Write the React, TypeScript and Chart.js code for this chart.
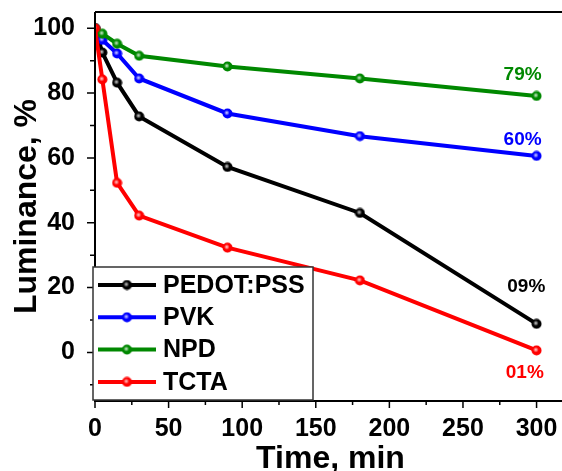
import React, { useEffect, useRef } from 'react';
import { Chart, registerables } from 'chart.js';
Chart.register(...registerables);

const times = [0, 5, 15, 30, 90, 180, 300];
const pedot = [100, 92.5, 83.2, 72.8, 57.2, 43.0, 8.8];
const pvk = [100, 96.4, 92.2, 84.5, 73.7, 66.7, 60.6];
const npd = [100, 98.3, 95.2, 91.5, 88.2, 84.5, 79.1];
const tcta = [100, 84.2, 52.3, 42.2, 32.3, 22.2, 0.6];

const seriesNames = ['PEDOT:PSS', 'PVK', 'NPD', 'TCTA'];
const seriesValues = [pedot, pvk, npd, tcta];
const seriesColors = ['#000000', '#0000ff', '#008800', '#ff0000'];
const seriesOrder = [3, 2, 1, 0];

const endLabels = ['09%', '60%', '79%', '01%'];
const endLabelX = [293, 290.5, 290.5, 292];
const endLabelY = [20.3, 65.5, 85.5, -6.2];

const xMajorTicks = [0, 50, 100, 150, 200, 250, 300];
const xMinorTicks = [25, 75, 125, 175, 225, 275];
const yMajorTicks = [0, 20, 40, 60, 80, 100];
const yMinorTicks = [-10, 10, 30, 50, 70, 90];

const FONT = "'Liberation Sans', Arial, sans-serif";

function makePoint(color: string): HTMLCanvasElement {
  const c = document.createElement('canvas');
  c.width = 11;
  c.height = 11;
  const g = c.getContext('2d')!;
  g.beginPath();
  g.arc(5.5, 5.5, 5, 0, Math.PI * 2);
  g.fillStyle = color;
  g.fill();
  const grad = g.createRadialGradient(4.8, 4.8, 0, 4.8, 4.8, 2.8);
  grad.addColorStop(0, 'rgba(255,255,255,0.85)');
  grad.addColorStop(1, 'rgba(255,255,255,0)');
  g.fillStyle = grad;
  g.beginPath();
  g.arc(5.5, 5.5, 5, 0, Math.PI * 2);
  g.fill();
  return c;
}

export default function App() {
  const ref = useRef<HTMLCanvasElement | null>(null);

  useEffect(() => {
    const canvas = ref.current;
    if (!canvas) return;
    const pointImgs = seriesColors.map(makePoint);

    const decor = {
      id: 'decor',
      afterDatasetsDraw(chart: any) {
        const { ctx, chartArea: ca, scales } = chart;
        const xs = scales.x;
        const ys = scales.y;
        ctx.save();
        // frame
        ctx.strokeStyle = '#000';
        ctx.lineWidth = 2;
        ctx.beginPath();
        ctx.moveTo(ca.left, ca.top);
        ctx.lineTo(chart.width, ca.top);
        ctx.moveTo(ca.left, ca.top);
        ctx.lineTo(ca.left, ca.bottom);
        ctx.lineTo(chart.width, ca.bottom);
        ctx.stroke();
        // ticks
        ctx.lineWidth = 1.5;
        ctx.beginPath();
        xMajorTicks.forEach((v) => {
          const p = xs.getPixelForValue(v);
          ctx.moveTo(p, ca.bottom);
          ctx.lineTo(p, ca.bottom + 7);
        });
        xMinorTicks.forEach((v) => {
          const p = xs.getPixelForValue(v);
          ctx.moveTo(p, ca.bottom);
          ctx.lineTo(p, ca.bottom + 4);
        });
        yMajorTicks.forEach((v) => {
          const p = ys.getPixelForValue(v);
          ctx.moveTo(ca.left, p);
          ctx.lineTo(ca.left - 8, p);
        });
        yMinorTicks.forEach((v) => {
          const p = ys.getPixelForValue(v);
          ctx.moveTo(ca.left, p);
          ctx.lineTo(ca.left - 5, p);
        });
        ctx.stroke();

        // end labels
        ctx.font = `bold 19px ${FONT}`;
        ctx.textAlign = 'center';
        ctx.textBaseline = 'middle';
        endLabels.forEach((t, i) => {
          ctx.fillStyle = seriesColors[i];
          ctx.fillText(t, xs.getPixelForValue(endLabelX[i]), ys.getPixelForValue(endLabelY[i]));
        });

        // legend
        const x0 = ca.left - 2;
        const y1 = ca.bottom - 1;
        const w = 220;
        const h = 133;
        const y0 = y1 - h;
        ctx.fillStyle = '#fff';
        ctx.fillRect(x0, y0, w, h);
        ctx.strokeStyle = '#333';
        ctx.lineWidth = 1.5;
        ctx.strokeRect(x0, y0, w, h);
        ctx.font = `bold 25px ${FONT}`;
        ctx.textAlign = 'left';
        ctx.textBaseline = 'middle';
        seriesNames.forEach((name, i) => {
          const ry = y0 + 18 + i * 32.3;
          ctx.strokeStyle = seriesColors[i];
          ctx.lineWidth = 4;
          ctx.beginPath();
          ctx.moveTo(x0 + 5, ry);
          ctx.lineTo(x0 + 63, ry);
          ctx.stroke();
          ctx.drawImage(pointImgs[i], x0 + 34 - 5.5, ry - 5.5);
          ctx.fillStyle = '#000';
          ctx.fillText(name, x0 + 70, ry + 1);
        });
        ctx.restore();
      },
    };

    const tickFont = { family: FONT, size: 25, weight: 'bold' as const };
    const titleFont = { family: FONT, size: 32, weight: 'bold' as const };

    const chart = new Chart(canvas, {
      type: 'line',
      data: {
        datasets: seriesNames.map((name, i) => ({
          label: name,
          data: times.map((t, j) => ({ x: t, y: seriesValues[i][j] })),
          borderColor: seriesColors[i],
          backgroundColor: seriesColors[i],
          borderWidth: 4,
          pointStyle: pointImgs[i] as any,
          pointRadius: 5,
          tension: 0,
          order: seriesOrder[i],
        })),
      },
      options: {
        responsive: false,
        animation: false,
        devicePixelRatio: 1,
        layout: { padding: { top: 12, right: 14, left: 0, bottom: 0 } },
        plugins: { legend: { display: false }, tooltip: { enabled: false } },
        scales: {
          x: {
            type: 'linear',
            min: 0,
            max: 320,
            grid: { display: false },
            border: { display: false },
            afterBuildTicks: (s: any) => {
              s.ticks = xMajorTicks.map((v) => ({ value: v }));
            },
            afterFit: (s: any) => {
              s.height = 79;
              s.paddingLeft = 0;
              s.paddingRight = 0;
            },
            ticks: { font: tickFont, color: '#000', padding: 5, maxRotation: 0, autoSkip: false },
            title: { display: true, text: 'Time, min', font: titleFont, color: '#000', padding: { top: 0, bottom: 2 } },
          },
          y: {
            type: 'linear',
            min: -15,
            max: 105,
            grid: { display: false },
            border: { display: false },
            afterBuildTicks: (s: any) => {
              s.ticks = yMajorTicks.map((v) => ({ value: v }));
            },
            afterFit: (s: any) => {
              s.width = 95;
              s.paddingTop = 0;
              s.paddingBottom = 0;
            },
            ticks: { font: tickFont, color: '#000', padding: 12, autoSkip: false },
            title: { display: true, text: 'Luminance, %', font: titleFont, color: '#000', padding: { top: 8, bottom: 0 } },
          },
        },
      },
      plugins: [decor],
    });
    return () => chart.destroy();
  }, []);

  return (
    <div style={{ position: 'fixed', left: 0, top: 0, width: 562, height: 471, overflow: 'hidden', background: '#fff' }}>
      <canvas ref={ref} width={580} height={480} style={{ display: 'block' }} />
    </div>
  );
}
